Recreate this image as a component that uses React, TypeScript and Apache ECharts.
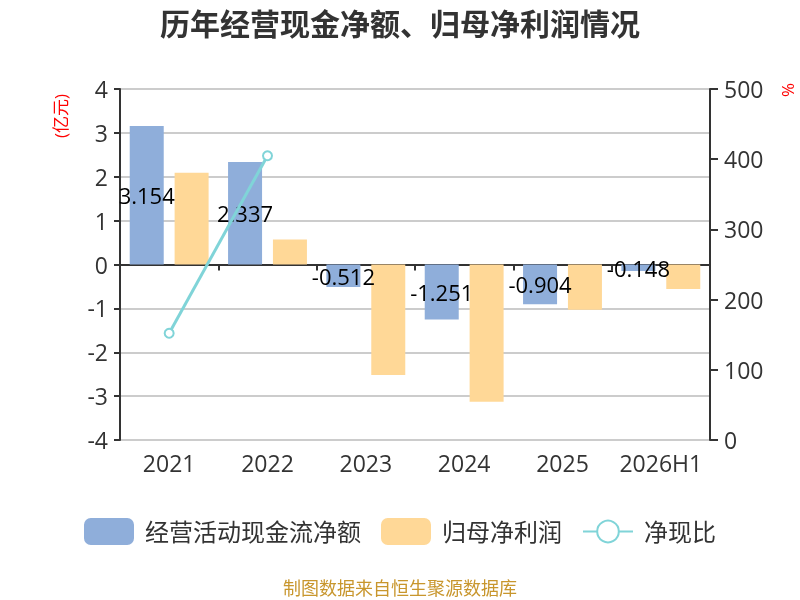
import React, { useEffect, useRef } from "react";
import * as echarts from "echarts";

const categories = ["2021", "2022", "2023", "2024", "2025", "2026H1"];
const cashFlow = [3.154, 2.337, -0.512, -1.251, -0.904, -0.148];
const netProfit = [2.09, 0.57, -2.52, -3.13, -1.03, -0.56];
const ratio: (number | null)[] = [152, 405, null, null, null, null];
const seriesNames = ["经营活动现金流净额", "归母净利润", "净现比"];

const FONT = "'Open Sans', 'Noto Sans CJK SC', sans-serif";

export default function App() {
  const ref = useRef<HTMLDivElement>(null);
  useEffect(() => {
    if (!ref.current) return;
    const chart = echarts.init(ref.current, undefined, { renderer: "svg" });
    chart.setOption({
      animation: false,
      textStyle: { fontFamily: FONT },
      title: {
        text: "历年经营现金净额、归母净利润情况",
        left: "center",
        top: 3,
        textStyle: { fontSize: 30, fontWeight: "bold", color: "#333", fontFamily: FONT },
      },
      grid: { left: 120, right: 90, top: 89, bottom: 160 },
      legend: {
        bottom: 50,
        left: "center",
        itemWidth: 50,
        itemHeight: 27,
        itemGap: 20,
        textStyle: { fontSize: 24, color: "#333", padding: [0, 0, 0, 6] },
        data: seriesNames,
      },
      graphic: [
        {
          type: "text",
          x: 60,
          y: 116,
          rotation: Math.PI / 2,
          style: {
            text: "(亿元)",
            fill: "#ff0000",
            fontSize: 17,
            fontFamily: FONT,
            align: "center",
            verticalAlign: "middle",
          },
        },
        {
          type: "text",
          x: 787,
          y: 90,
          rotation: Math.PI / 2,
          style: {
            text: "%",
            fill: "#ff0000",
            fontSize: 17,
            fontFamily: FONT,
            align: "center",
            verticalAlign: "middle",
          },
        },
        {
          type: "text",
          x: 400,
          y: 588,
          style: {
            text: "制图数据来自恒生聚源数据库",
            fill: "#C8962D",
            fontSize: 18,
            fontFamily: FONT,
            align: "center",
            verticalAlign: "middle",
          },
        },
      ],
      xAxis: [
        {
          type: "category",
          data: categories,
          axisLine: { onZero: true, lineStyle: { color: "#333", width: 2 } },
          axisTick: { show: true, length: 6, lineStyle: { color: "#333", width: 2 } },
          axisLabel: { show: false },
        },
        {
          type: "category",
          data: categories,
          position: "bottom",
          axisLine: { show: false, onZero: false },
          axisTick: { show: false },
          axisLabel: { fontSize: 23, color: "#333", margin: 11, interval: 0 },
        },
      ],
      yAxis: [
        {
          type: "value",
          min: -4,
          max: 4,
          interval: 1,
          axisLine: { show: true, lineStyle: { color: "#333", width: 2 } },
          axisTick: { show: true, length: 6, lineStyle: { color: "#333", width: 2 } },
          axisLabel: { fontSize: 23, color: "#333", margin: 12 },
          splitLine: { show: true, lineStyle: { color: "#ccc", width: 2 } },
        },
        {
          type: "value",
          min: 0,
          max: 500,
          interval: 100,
          axisLine: { show: true, lineStyle: { color: "#333", width: 2 } },
          axisTick: { show: true, length: 8, lineStyle: { color: "#333", width: 2 } },
          axisLabel: { fontSize: 23, color: "#333", margin: 14 },
          splitLine: { show: false },
        },
      ],
      series: [
        {
          name: seriesNames[0],
          type: "bar",
          data: cashFlow,
          barWidth: 34,
          barGap: "32%",
          itemStyle: { color: "#8FAEDA" },
          label: { show: true, position: "inside", color: "#000", fontSize: 22 },
        },
        {
          name: seriesNames[1],
          type: "bar",
          data: netProfit,
          barWidth: 34,
          barGap: "32%",
          itemStyle: { color: "#FFD897" },
        },
        {
          name: seriesNames[2],
          type: "line",
          yAxisIndex: 1,
          data: ratio,
          symbol: "emptyCircle",
          symbolSize: 9,
          lineStyle: { color: "#80D4D8", width: 3 },
          itemStyle: { color: "#80D4D8", borderWidth: 2 },
        },
      ],
    });
    return () => chart.dispose();
  }, []);
  return (
    <div
      ref={ref}
      style={{ position: "fixed", left: 0, top: 0, width: 800, height: 600 }}
    />
  );
}
